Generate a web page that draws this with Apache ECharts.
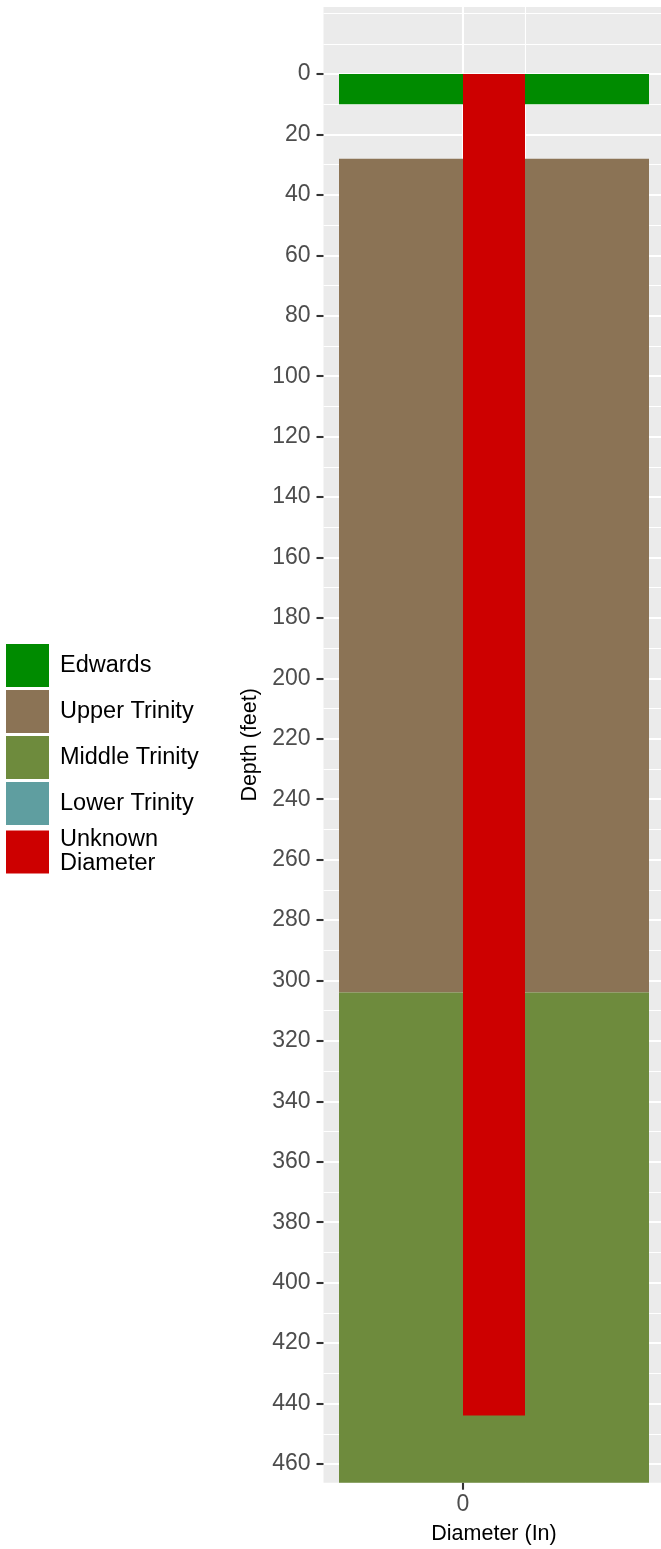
<!DOCTYPE html>
<html>
<head>
<meta charset="utf-8">
<script src="https://cdn.jsdelivr.net/npm/echarts@6/dist/echarts.min.js"></script>
<style>
  html, body { margin: 0; padding: 0; background: #ffffff; }
  #chart { width: 661px; height: 1549px; }
</style>
</head>
<body>
<div id="chart"></div>
<script>
// Legend entries and their fill colours
const legendNames = ['Edwards', 'Upper Trinity', 'Middle Trinity', 'Lower Trinity', 'Unknown Diameter'];
const legendColors = ['#008B00', '#8B7355', '#6E8B3D', '#5F9EA0', '#CD0000'];

// Formation intervals: depth (feet) from top to bottom, extent on the diameter axis
const layerNames = ['Edwards', 'Upper Trinity', 'Middle Trinity'];
const layerTop = [0, 28, 304];
const layerBottom = [10, 304, 466.2];
const layerLeft = [-2, -2, -2];
const layerRight = [3, 3, 3];

// Borehole interval with unknown diameter
const boreName = 'Unknown Diameter';
const boreTop = [0];
const boreBottom = [444];
const boreLeft = [0];
const boreRight = [1];

// Axis breaks
const depthTicks = [0, 20, 40, 60, 80, 100, 120, 140, 160, 180, 200, 220, 240, 260, 280, 300, 320, 340, 360, 380, 400, 420, 440, 460];
const depthMinor = [-20, -10, 10, 30, 50, 70, 90, 110, 130, 150, 170, 190, 210, 230, 250, 270, 290, 310, 330, 350, 370, 390, 410, 430, 450];
const diamTicks = [0];
const diamMinor = [1];

const depthRange = [-22.2, 466.2];
const diamRange = [-2.25, 3.25];

function rectItem(params, api) {
  const p0 = api.coord([api.value(0), api.value(2)]);
  const p1 = api.coord([api.value(1), api.value(3)]);
  return {
    type: 'rect',
    shape: {
      x: Math.min(p0[0], p1[0]),
      y: Math.min(p0[1], p1[1]),
      width: Math.abs(p1[0] - p0[0]),
      height: Math.abs(p1[1] - p0[1])
    },
    style: { fill: api.visual('color') }
  };
}

function rectSeries(name, data, z) {
  const idx = legendNames.indexOf(name);
  return {
    type: 'custom',
    name: name,
    xAxisIndex: 0,
    yAxisIndex: 0,
    renderItem: rectItem,
    encode: { x: [0, 1], y: [2, 3] },
    itemStyle: { color: legendColors[idx] },
    z: z,
    silent: true,
    animation: false,
    data: data
  };
}

const series = [];
legendNames.forEach(function (name) {
  if (name === boreName) return;
  const i = layerNames.indexOf(name);
  const data = i < 0 ? [] : [[layerLeft[i], layerRight[i], layerTop[i], layerBottom[i]]];
  series.push(rectSeries(name, data, 2));
});
series.push(rectSeries(boreName, boreTop.map(function (t, i) {
  return [boreLeft[i], boreRight[i], t, boreBottom[i]];
}), 3));

const fontFamily = 'Liberation Sans, Arial, sans-serif';
const tickFont = { fontFamily: fontFamily, fontSize: 23, color: '#4D4D4D' };
const titleFont = { fontFamily: fontFamily, fontSize: 21.5, color: '#000000' };
const majorGrid = { color: '#ffffff', width: 2.1 };
const minorGrid = { color: '#ffffff', width: 1.1 };
const tickLine = { color: '#333333', width: 2.1 };

const option = {
  animation: false,
  backgroundColor: '#ffffff',
  grid: {
    show: true,
    backgroundColor: '#EBEBEB',
    borderWidth: 0,
    left: 323.5,
    right: -3.5,
    top: 7,
    bottom: 66.3,
    outerBoundsMode: 'none'
  },
  legend: {
    orient: 'vertical',
    left: 6,
    top: 644,
    padding: 0,
    icon: 'rect',
    itemWidth: 43,
    itemHeight: 43,
    itemGap: 3,
    selectedMode: false,
    data: legendNames.map(function (n, i) {
      return { name: n, itemStyle: { color: legendColors[i] } };
    }),
    formatter: function (name) {
      return name === boreName ? 'Unknown\nDiameter' : name;
    },
    textStyle: {
      fontFamily: fontFamily,
      fontSize: 23.5,
      lineHeight: 24,
      color: '#000000',
      padding: [0, 0, 0, 6]
    }
  },
  xAxis: [{
    type: 'value',
    position: 'bottom',
    min: diamRange[0],
    max: diamRange[1],
    name: 'Diameter (In)',
    nameLocation: 'middle',
    nameGap: 40,
    nameTextStyle: titleFont,
    axisLine: { show: false, onZero: false },
    axisTick: { show: true, length: 7, customValues: diamTicks, lineStyle: tickLine },
    axisLabel: Object.assign({ customValues: diamTicks, margin: 10 }, tickFont),
    splitLine: { show: true, lineStyle: majorGrid }
  }, {
    type: 'value',
    position: 'top',
    min: diamRange[0],
    max: diamRange[1],
    axisLine: { show: false, onZero: false },
    axisTick: { show: false, customValues: diamMinor },
    axisLabel: { show: false, customValues: diamMinor },
    splitLine: { show: true, lineStyle: minorGrid }
  }],
  yAxis: [{
    type: 'value',
    position: 'left',
    inverse: true,
    min: depthRange[0],
    max: depthRange[1],
    name: 'Depth (feet)',
    nameLocation: 'middle',
    nameGap: 49,
    nameTextStyle: titleFont,
    axisLine: { show: false, onZero: false },
    axisTick: { show: true, length: 7, customValues: depthTicks, lineStyle: tickLine },
    axisLabel: Object.assign({ customValues: depthTicks, margin: 13, padding: [3, 0, 0, 0] }, tickFont),
    splitLine: { show: true, lineStyle: majorGrid }
  }, {
    type: 'value',
    position: 'right',
    inverse: true,
    min: depthRange[0],
    max: depthRange[1],
    axisLine: { show: false, onZero: false },
    axisTick: { show: false, customValues: depthMinor },
    axisLabel: { show: false, customValues: depthMinor },
    splitLine: { show: true, lineStyle: minorGrid }
  }],
  series: series
};

const chart = echarts.init(document.getElementById('chart'), null, { renderer: 'canvas' });
chart.setOption(option);
</script>
</body>
</html>
